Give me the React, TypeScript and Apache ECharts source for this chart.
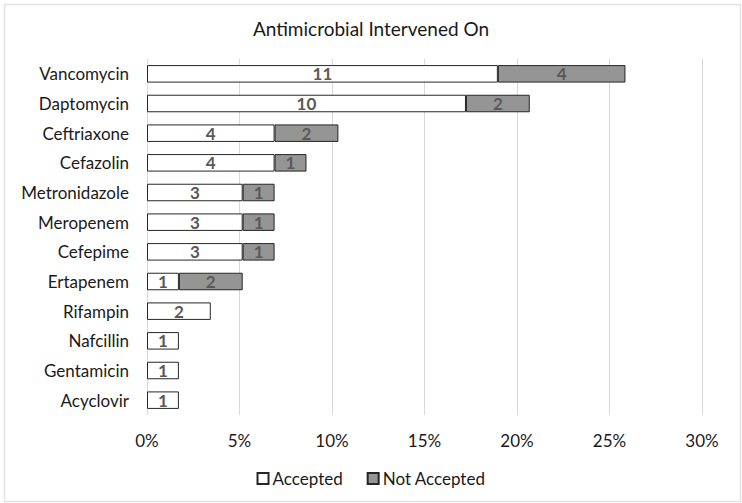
import React, { useEffect, useRef } from "react";
import * as echarts from "echarts";

const categories = [
  "Vancomycin",
  "Daptomycin",
  "Ceftriaxone",
  "Cefazolin",
  "Metronidazole",
  "Meropenem",
  "Cefepime",
  "Ertapenem",
  "Rifampin",
  "Nafcillin",
  "Gentamicin",
  "Acyclovir",
];
const accepted = [11, 10, 4, 4, 3, 3, 3, 1, 2, 1, 1, 1];
const notAccepted = [4, 2, 2, 1, 1, 1, 1, 2, 0, 0, 0, 0];
const tickValues = [0, 5, 10, 15, 20, 25, 30];

const FONT = "Lato, 'Open Sans', sans-serif";

export default function App() {
  const ref = useRef<HTMLDivElement>(null);
  useEffect(() => {
    if (!ref.current) return;
    const chart = echarts.init(ref.current, undefined, { renderer: "svg" });
    const total =
      accepted.reduce((a, b) => a + b, 0) + notAccepted.reduce((a, b) => a + b, 0);
    const toData = (arr: number[]) =>
      arr.map((c) => (c > 0 ? { value: (c / total) * 100, count: c } : null));
    const labelCfg = {
      show: true,
      position: "inside",
      color: "#595959",
      fontWeight: "bold",
      fontSize: 17,
      fontFamily: FONT,
      formatter: (p: any) => (p.data && p.data.count ? String(p.data.count) : ""),
    };
    chart.setOption({
      animation: false,
      backgroundColor: "#fff",
      title: {
        text: "Antimicrobial Intervened On",
        left: "center",
        top: 14,
        textStyle: { fontFamily: FONT, fontSize: 19, fontWeight: "normal", color: "#1a1a1a" },
      },
      legend: {
        bottom: 11,
        left: "center",
        icon: "rect",
        itemWidth: 11,
        itemHeight: 11,
        itemGap: 24,
        textStyle: { fontFamily: FONT, fontSize: 17, color: "#1a1a1a", padding: [0, 0, 0, -1] },
        data: ["Accepted", "Not Accepted"],
      },
      grid: { left: 147, right: 40, top: 59, bottom: 88, containLabel: false },
      xAxis: {
        type: "value",
        min: tickValues[0],
        max: tickValues[tickValues.length - 1],
        interval: 5,
        axisLine: { show: false },
        axisTick: { show: false },
        splitLine: { show: true, lineStyle: { color: "#d9d9d9", width: 1 } },
        axisLabel: {
          formatter: (v: number) => `${v}%`,
          fontFamily: FONT,
          fontSize: 17,
          color: "#1a1a1a",
          margin: 17,
        },
      },
      yAxis: {
        type: "category",
        data: categories,
        inverse: true,
        axisLine: { show: false },
        axisTick: { show: false },
        axisLabel: { fontFamily: FONT, fontSize: 17, color: "#1a1a1a", margin: 18 },
      },
      series: [
        {
          name: "Accepted",
          type: "bar",
          stack: "total",
          barWidth: "59%",
          data: toData(accepted),
          itemStyle: { color: "#ffffff", borderColor: "#262626", borderWidth: 1 },
          label: labelCfg,
        },
        {
          name: "Not Accepted",
          type: "bar",
          stack: "total",
          barWidth: "59%",
          data: toData(notAccepted),
          itemStyle: { color: "#959595", borderColor: "#262626", borderWidth: 1 },
          label: labelCfg,
        },
      ],
      graphic: [
        {
          type: "rect",
          left: 2,
          top: 2,
          shape: { x: 0, y: 0, width: 736, height: 497 },
          style: { fill: "none", stroke: "#e3e3e3", lineWidth: 1.5 },
          silent: true,
        },
      ],
    });
    return () => chart.dispose();
  }, []);
  return (
    <div
      ref={ref}
      style={{ position: "absolute", left: 0, top: 0, width: 742, height: 503 }}
    />
  );
}
